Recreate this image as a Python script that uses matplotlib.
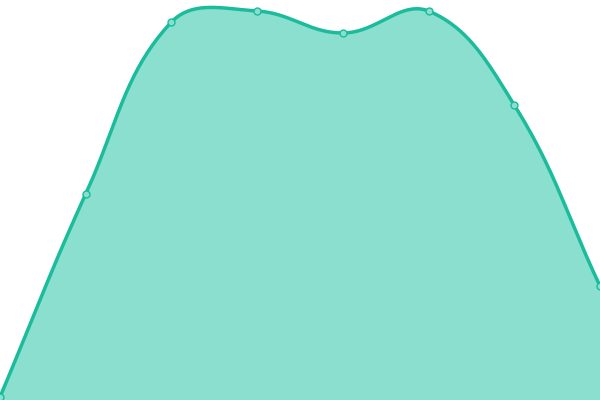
import matplotlib
matplotlib.use('Agg')
import matplotlib.pyplot as plt
import numpy as np

# data (pixel-ish scale, 0 at bottom)
x_vals = [0, 1, 2, 3, 4, 5, 6, 7]
y_vals = [3, 206, 378, 389, 367, 389, 295, 114]

LINE = '#1abc9c'
FILL = '#8adfcf'
W, H = 600, 400
TENSION = 0.4


def spline_curve(xs, ys, tension=TENSION, n=40):
    # chart.js-style bezier spline, computed in pixel space
    px = np.asarray(xs, dtype=float) * W / (len(xs) - 1)
    py = H - np.asarray(ys, dtype=float)
    pts = np.column_stack([px, py])
    cnt = len(pts)
    c_prev = pts.copy()
    c_next = pts.copy()
    for i in range(cnt):
        prev = pts[max(i - 1, 0)]
        cur = pts[i]
        nxt = pts[min(i + 1, cnt - 1)]
        d01 = np.hypot(*(cur - prev))
        d12 = np.hypot(*(nxt - cur))
        tot = d01 + d12
        fa = tension * d01 / tot if tot else 0
        fb = tension * d12 / tot if tot else 0
        c_prev[i] = cur - fa * (nxt - prev)
        c_next[i] = cur + fb * (nxt - prev)
    # keep control points inside the plot area
    c_prev[:, 0] = np.clip(c_prev[:, 0], 0, W)
    c_next[:, 0] = np.clip(c_next[:, 0], 0, W)
    c_prev[:, 1] = np.clip(c_prev[:, 1], 0, H)
    c_next[:, 1] = np.clip(c_next[:, 1], 0, H)
    t = np.linspace(0, 1, n, endpoint=False)[:, None]
    seg = []
    for i in range(cnt - 1):
        p0, p1, p2, p3 = pts[i], c_next[i], c_prev[i + 1], pts[i + 1]
        seg.append((1 - t) ** 3 * p0 + 3 * (1 - t) ** 2 * t * p1
                   + 3 * (1 - t) * t ** 2 * p2 + t ** 3 * p3)
    seg.append(pts[-1:])
    curve = np.vstack(seg)
    return curve[:, 0] * (len(xs) - 1) / W, H - curve[:, 1]


sx, sy = spline_curve(x_vals, y_vals)

fig = plt.figure(figsize=(6, 4), dpi=100)
ax = fig.add_axes([0, 0, 1, 1])
ax.fill_between(sx, 0, sy, color=FILL, linewidth=0)
ax.plot(sx, sy, color=LINE, linewidth=2.5, solid_capstyle='round')
ax.plot(x_vals, y_vals, linestyle='none', marker='o', markersize=5,
        markerfacecolor=FILL, markeredgecolor=LINE, markeredgewidth=1)
ax.set_xlim(0, 7)
ax.set_ylim(0, 400)
ax.axis('off')

plt.savefig('out.png', dpi=100)
